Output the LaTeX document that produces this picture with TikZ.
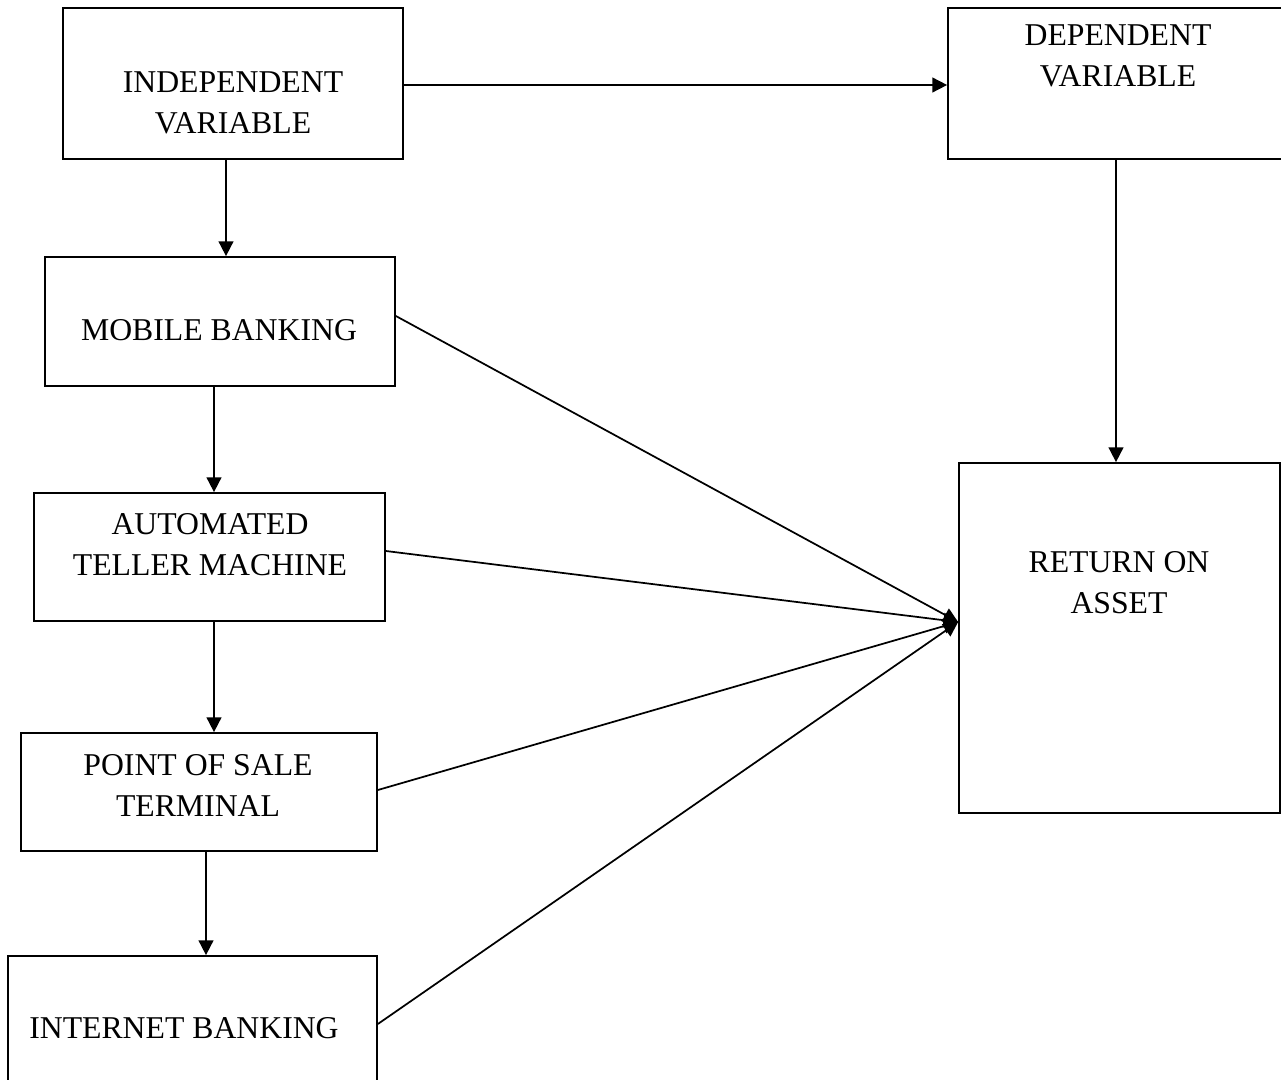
\documentclass[tikz,border=0pt]{standalone}
\usepackage{fontspec}
\setmainfont{Liberation Serif}
\usetikzlibrary{fit,arrows.meta}
\begin{document}
\begin{tikzpicture}[x=0.75pt,y=-0.75pt,
  box/.style={draw,line width=1.3pt,inner sep=0pt,rectangle},
  txt/.style={align=center,inner sep=0pt,font=\fontsize{23.8}{30.75}\selectfont},
  arr/.style={line width=1.3pt,-{Triangle[length=11pt,width=11pt]}},
  ln/.style={line width=1.2pt}]
\useasboundingbox[fill=white] (0,0) rectangle (1281,1080);
% boxes
\node[box,fit={(63,8) (403,159)}] (ind) {};
\node[box,fit={(948,8) (1284,159)}] (dep) {};
\node[box,fit={(45,257) (395,386)}] (mob) {};
\node[box,fit={(34,493) (385,621)}] (atm) {};
\node[box,fit={(21,733) (377,851)}] (pos) {};
\node[box,fit={(8,956) (377,1090)}] (int) {};
\node[box,fit={(959,463) (1280,813)}] (roa) {};
% texts
\node[txt] (tind) at (233,103) {INDEPENDENT\\VARIABLE};
\node[txt] (tdep) at (1118,56) {DEPENDENT\\VARIABLE};
\node[txt] (tmob) at (219,330) {MOBILE BANKING};
\node[txt] (tatm) at (210,545) {AUTOMATED\\TELLER MACHINE};
\node[txt] (tpos) at (198,785) {POINT OF SALE\\TERMINAL};
\node[txt] (tint) at (184,1028) {INTERNET BANKING};
\node[txt] (troa) at (1119,583) {RETURN ON\\ASSET};
% helper coordinates
\coordinate (c1) at (226,0);
\coordinate (c2) at (214,0);
\coordinate (c3) at (206,0);
\coordinate (c4) at (1116,0);
\coordinate (h1) at (0,85);
\coordinate (hit) at (0,622);
\coordinate (m1) at (0,316);
\coordinate (a1) at (0,551);
\coordinate (p1) at (0,790);
\coordinate (i1) at (0,1024);
% connectors
\draw[arr] (ind.east |- h1) -- (dep.west |- h1);
\draw[arr] (ind.south -| c1) -- (mob.north -| c1);
\draw[arr] (mob.south -| c2) -- (atm.north -| c2);
\draw[arr] (atm.south -| c2) -- (pos.north -| c2);
\draw[arr] (pos.south -| c3) -- (int.north -| c3);
\draw[arr] (dep.south -| c4) -- (roa.north -| c4);
\draw[arr] (mob.east |- m1) -- (roa.west |- hit);
\draw[arr] (atm.east |- a1) -- (roa.west |- hit);
\draw[arr] (pos.east |- p1) -- (roa.west |- hit);
\draw[arr] (int.east |- i1) -- (roa.west |- hit);
\end{tikzpicture}
\end{document}
